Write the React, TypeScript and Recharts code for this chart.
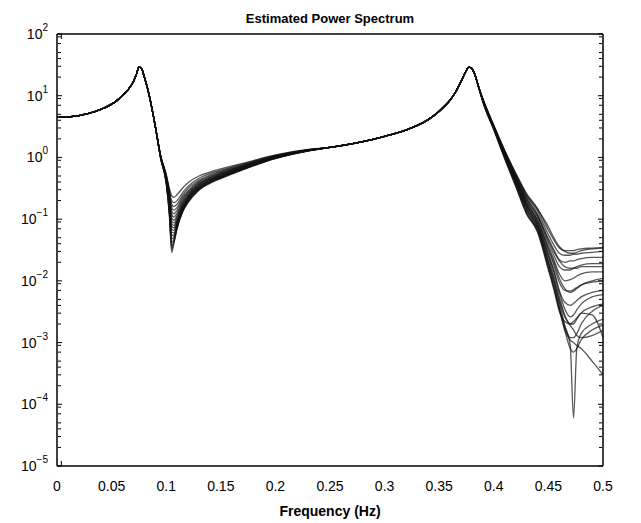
import React from 'react';
import { LineChart, Line, XAxis, YAxis, Label } from 'recharts';

// shared part of every estimate (0 .. 0.09 Hz)
const HEAD_FREQ = [0, 0.01, 0.02, 0.03, 0.04, 0.05, 0.055, 0.06, 0.065, 0.07, 0.073, 0.075, 0.077, 0.078, 0.08, 0.083, 0.086, 0.09];
const HEAD_PSD = [4.5, 4.55, 4.75, 5.2, 6.0, 7.3, 8.4, 10, 12.5, 17, 23, 29, 28, 26, 20, 13, 7.5, 3.2];

// notch near 0.105 Hz and its recovery, one row per estimate
const DIP_FREQ = [0.095, 0.1, 0.103, 0.105, 0.107, 0.11, 0.115, 0.12, 0.13, 0.14, 0.15, 0.17, 0.2, 0.23];
const DIP_PSD = [
  [1.05, 0.53, 0.31, 0.24, 0.225, 0.25, 0.32, 0.39, 0.5, 0.58, 0.65, 0.8, 1.1, 1.35],
  [1.04, 0.52, 0.29, 0.2, 0.185, 0.2, 0.27, 0.34, 0.46, 0.55, 0.62, 0.78, 1.08, 1.34],
  [1.04, 0.51, 0.27, 0.175, 0.16, 0.175, 0.245, 0.315, 0.43, 0.52, 0.6, 0.76, 1.07, 1.33],
  [1.03, 0.5, 0.255, 0.155, 0.14, 0.155, 0.225, 0.29, 0.41, 0.5, 0.58, 0.74, 1.06, 1.33],
  [1.03, 0.49, 0.24, 0.135, 0.122, 0.14, 0.21, 0.275, 0.395, 0.485, 0.565, 0.73, 1.05, 1.32],
  [1.02, 0.48, 0.225, 0.12, 0.108, 0.125, 0.195, 0.26, 0.38, 0.47, 0.55, 0.72, 1.04, 1.32],
  [1.02, 0.47, 0.21, 0.105, 0.096, 0.115, 0.185, 0.25, 0.37, 0.46, 0.54, 0.71, 1.03, 1.31],
  [1.01, 0.46, 0.2, 0.094, 0.087, 0.108, 0.175, 0.24, 0.36, 0.45, 0.53, 0.7, 1.02, 1.31],
  [1.0, 0.455, 0.19, 0.085, 0.079, 0.1, 0.168, 0.232, 0.35, 0.44, 0.52, 0.69, 1.01, 1.3],
  [1.0, 0.45, 0.18, 0.076, 0.072, 0.095, 0.16, 0.225, 0.342, 0.432, 0.51, 0.68, 1.0, 1.3],
  [0.99, 0.44, 0.17, 0.068, 0.066, 0.09, 0.155, 0.22, 0.335, 0.425, 0.5, 0.67, 0.995, 1.3],
  [0.99, 0.43, 0.16, 0.061, 0.06, 0.085, 0.15, 0.215, 0.328, 0.418, 0.495, 0.665, 0.99, 1.29],
  [0.98, 0.42, 0.15, 0.054, 0.055, 0.082, 0.145, 0.21, 0.322, 0.41, 0.49, 0.66, 0.985, 1.29],
  [0.98, 0.41, 0.14, 0.048, 0.051, 0.079, 0.142, 0.205, 0.316, 0.403, 0.482, 0.652, 0.98, 1.29],
  [0.97, 0.405, 0.13, 0.042, 0.047, 0.076, 0.138, 0.2, 0.31, 0.396, 0.475, 0.645, 0.975, 1.28],
  [0.96, 0.395, 0.122, 0.037, 0.044, 0.074, 0.135, 0.195, 0.305, 0.39, 0.468, 0.64, 0.97, 1.28],
  [0.955, 0.385, 0.115, 0.033, 0.042, 0.072, 0.132, 0.19, 0.3, 0.385, 0.46, 0.635, 0.965, 1.28],
  [0.95, 0.375, 0.108, 0.029, 0.04, 0.07, 0.13, 0.185, 0.295, 0.38, 0.455, 0.63, 0.96, 1.27],
];

// shared middle part and second peak
const MID_FREQ = [0.25, 0.28, 0.3, 0.32, 0.33, 0.34, 0.35, 0.355, 0.36, 0.365, 0.37, 0.374, 0.377, 0.38, 0.383, 0.386];
const MID_PSD = [1.45, 1.8, 2.2, 2.8, 3.3, 4.1, 5.6, 6.8, 8.5, 11.5, 17, 24, 29, 27.5, 21, 14];

// high-frequency tail, one row per estimate
const TAIL_FREQ = [0.39, 0.4, 0.41, 0.42, 0.43, 0.44, 0.45, 0.455, 0.46, 0.465, 0.47, 0.473, 0.476, 0.48, 0.49, 0.5];
const TAIL_PSD = [
  [8.9, 3.3, 1.3, 0.56, 0.26, 0.15, 0.066, 0.046, 0.034, 0.031, 0.031, 0.031, 0.032, 0.033, 0.034, 0.035],
  [8.85, 3.28, 1.28, 0.55, 0.25, 0.145, 0.075, 0.05, 0.036, 0.03, 0.028, 0.028, 0.029, 0.031, 0.033, 0.034],
  [8.8, 3.25, 1.27, 0.53, 0.24, 0.135, 0.056, 0.038, 0.028, 0.026, 0.026, 0.027, 0.027, 0.028, 0.029, 0.03],
  [8.7, 3.2, 1.24, 0.51, 0.225, 0.12, 0.048, 0.032, 0.022, 0.02, 0.021, 0.021, 0.022, 0.023, 0.024, 0.024],
  [8.6, 3.15, 1.22, 0.5, 0.215, 0.115, 0.045, 0.03, 0.021, 0.017, 0.016, 0.016, 0.016, 0.017, 0.017, 0.017],
  [8.6, 3.15, 1.2, 0.49, 0.205, 0.11, 0.041, 0.026, 0.017, 0.015, 0.015, 0.016, 0.017, 0.018, 0.019, 0.019],
  [8.5, 3.1, 1.17, 0.47, 0.195, 0.1, 0.036, 0.022, 0.013, 0.01, 0.0105, 0.011, 0.012, 0.013, 0.014, 0.014],
  [8.5, 3.1, 1.15, 0.46, 0.185, 0.095, 0.033, 0.02, 0.011, 0.0075, 0.0065, 0.0068, 0.0075, 0.0085, 0.01, 0.011],
  [8.5, 3.05, 1.14, 0.45, 0.18, 0.092, 0.031, 0.018, 0.0095, 0.007, 0.0068, 0.0072, 0.0078, 0.0086, 0.0095, 0.01],
  [8.4, 3.0, 1.11, 0.43, 0.17, 0.085, 0.027, 0.015, 0.007, 0.0045, 0.004, 0.0043, 0.0048, 0.0055, 0.0065, 0.007],
  [8.3, 3.0, 1.1, 0.42, 0.165, 0.082, 0.026, 0.014, 0.0065, 0.0035, 0.0026, 0.0028, 0.0034, 0.0042, 0.0055, 0.006],
  [8.3, 3.0, 1.08, 0.41, 0.16, 0.08, 0.024, 0.012, 0.0055, 0.0028, 0.002, 0.002, 0.0024, 0.003, 0.0038, 0.0042],
  [8.2, 2.95, 1.05, 0.4, 0.15, 0.075, 0.021, 0.0105, 0.0045, 0.0019, 0.0009, 0.00006, 0.0008, 0.0014, 0.002, 0.0024],
  [8.2, 2.95, 1.04, 0.39, 0.145, 0.072, 0.02, 0.01, 0.0048, 0.0026, 0.0019, 0.0016, 0.0013, 0.0012, 0.0013, 0.0016],
  [8.1, 2.9, 1.02, 0.38, 0.14, 0.07, 0.019, 0.009, 0.0038, 0.0016, 0.0008, 0.0007, 0.0008, 0.0011, 0.0016, 0.0019],
  [8.0, 2.85, 0.98, 0.36, 0.13, 0.066, 0.017, 0.008, 0.0034, 0.0016, 0.0011, 0.001, 0.0009, 0.0008, 0.0005, 0.0003],
  [8.0, 2.85, 0.97, 0.35, 0.125, 0.064, 0.016, 0.0078, 0.0036, 0.0018, 0.0012, 0.0012, 0.0014, 0.002, 0.0032, 0.004],
  [7.9, 2.8, 0.95, 0.34, 0.12, 0.062, 0.015, 0.0072, 0.0032, 0.0022, 0.002, 0.0022, 0.0025, 0.003, 0.0028, 0.0012],
];

const X_TICKS = [0, 0.05, 0.1, 0.15, 0.2, 0.25, 0.3, 0.35, 0.4, 0.45, 0.5];
const Y_EXPONENTS = [-5, -4, -3, -2, -1, 0, 1, 2];
const Y_TICKS = Y_EXPONENTS.map(e => Math.pow(10, e));
const Y_MINOR: number[] = [];
for (const e of Y_EXPONENTS.slice(0, -1)) {
  for (let k = 2; k <= 9; k++) Y_MINOR.push(k * Math.pow(10, e));
}

const SERIES = DIP_PSD.map((_, i) => `s${i}`);

const makeRow = (f: number, pick: (i: number) => number) => {
  const r: Record<string, number> = { f };
  SERIES.forEach((k, i) => { r[k] = pick(i); });
  return r;
};

const chartData = [
  ...HEAD_FREQ.map((f, j) => makeRow(f, () => HEAD_PSD[j])),
  ...DIP_FREQ.map((f, j) => makeRow(f, i => DIP_PSD[i][j])),
  ...MID_FREQ.map((f, j) => makeRow(f, () => MID_PSD[j])),
  ...TAIL_FREQ.map((f, j) => makeRow(f, i => TAIL_PSD[i][j])),
];

const FONT = '"Liberation Sans", Arial, Helvetica, sans-serif';
const Y_DOMAIN: [number, number] = [1e-5, 100];

const XTick = (props: any) => {
  const { x, y, payload } = props;
  return (
    <text x={x} y={y + 25} textAnchor="middle" fontSize={14} fill="#000" fontFamily={FONT}>
      {String(payload.value)}
    </text>
  );
};

const YTick = (props: any) => {
  const { x, y, payload } = props;
  const exp = Math.round(Math.log10(payload.value));
  return (
    <text x={x - 9} y={y + 5} textAnchor="end" fill="#000" fontFamily={FONT}>
      <tspan fontSize={14}>10</tspan>
      <tspan fontSize={10} dy={-8}>{exp < 0 ? `\u2212${-exp}` : exp}</tspan>
    </text>
  );
};

const blank = () => '';
const tickStroke = { stroke: '#000' };

export default function App() {
  return (
    <div style={{ position: 'absolute', left: 0, top: 0, width: 641, height: 523, background: '#fff', fontFamily: FONT }}>
      <div style={{ position: 'absolute', left: 57, width: 546, top: 11, textAlign: 'center', fontSize: 13, fontWeight: 'bold', color: '#000' }}>
        Estimated Power Spectrum
      </div>
      <LineChart width={641} height={523} data={chartData} margin={{ top: 34, right: 38, bottom: 0, left: 0 }}>
        <XAxis
          xAxisId="x"
          dataKey="f"
          type="number"
          domain={[0, 0.5]}
          allowDataOverflow
          ticks={X_TICKS}
          tick={<XTick />}
          tickLine={false}
          tickSize={0}
          tickMargin={0}
          height={57}
          axisLine={{ stroke: '#000', strokeWidth: 1.5 }}
        >
          <Label
            value="Frequency (Hz)"
            position="insideBottom"
            offset={7}
            style={{ fontSize: 14, fontWeight: 'bold', fill: '#000', fontFamily: FONT }}
          />
        </XAxis>
        <XAxis xAxisId="xb" orientation="bottom" mirror type="number" domain={[0, 0.5]} allowDataOverflow ticks={X_TICKS}
          tickFormatter={blank} tickSize={5} height={1} axisLine={false} tickLine={tickStroke} />
        <XAxis xAxisId="xt" orientation="top" mirror type="number" domain={[0, 0.5]} allowDataOverflow ticks={X_TICKS}
          tickFormatter={blank} tickSize={5} height={1} axisLine={{ stroke: '#000', strokeWidth: 1.5 }} tickLine={tickStroke} />
        <YAxis
          yAxisId="y"
          type="number"
          scale="log"
          domain={Y_DOMAIN}
          allowDataOverflow
          ticks={Y_TICKS}
          tick={<YTick />}
          tickLine={false}
          tickSize={0}
          tickMargin={0}
          width={57}
          axisLine={{ stroke: '#000', strokeWidth: 1.5 }}
        />
        <YAxis yAxisId="ylM" orientation="left" mirror type="number" scale="log" domain={Y_DOMAIN} allowDataOverflow ticks={Y_TICKS}
          tickFormatter={blank} tickSize={5} width={1} axisLine={false} tickLine={tickStroke} />
        <YAxis yAxisId="ylm" orientation="left" mirror type="number" scale="log" domain={Y_DOMAIN} allowDataOverflow ticks={Y_MINOR}
          tickFormatter={blank} tickSize={3} width={1} axisLine={false} tickLine={tickStroke} />
        <YAxis yAxisId="yrM" orientation="right" mirror type="number" scale="log" domain={Y_DOMAIN} allowDataOverflow ticks={Y_TICKS}
          tickFormatter={blank} tickSize={5} width={1} axisLine={{ stroke: '#000', strokeWidth: 1.5 }} tickLine={tickStroke} />
        <YAxis yAxisId="yrm" orientation="right" mirror type="number" scale="log" domain={Y_DOMAIN} allowDataOverflow ticks={Y_MINOR}
          tickFormatter={blank} tickSize={3} width={1} axisLine={false} tickLine={tickStroke} />
        {SERIES.map(k => (
          <Line
            key={k}
            xAxisId="x"
            yAxisId="y"
            dataKey={k}
            type="monotone"
            stroke="#111"
            strokeOpacity={0.7}
            strokeWidth={1.3}
            dot={false}
            activeDot={false}
            isAnimationActive={false}
          />
        ))}
      </LineChart>
    </div>
  );
}
